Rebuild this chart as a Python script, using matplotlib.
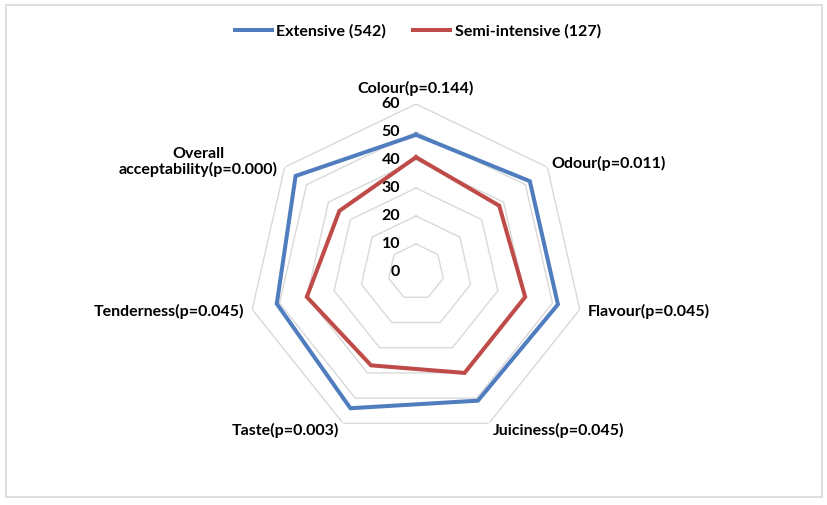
import numpy as np
import matplotlib
matplotlib.use("Agg")
import matplotlib.pyplot as plt
from matplotlib.patches import Rectangle

categories = ["Colour(p=0.144)", "Odour(p=0.011)", "Flavour(p=0.045)",
              "Juiciness(p=0.045)", "Taste(p=0.003)", "Tenderness(p=0.045)",
              "Overall\nacceptability(p=0.000)"]
extensive = [49, 52, 52, 51, 54, 51, 55]
semi_intensive = [41, 38, 40, 40, 37, 40, 35]
series_names = ["Extensive (542)", "Semi-intensive (127)"]
r_ticks = [0, 10, 20, 30, 40, 50, 60]

plt.rcParams['font.family'] = ['Lato', 'DejaVu Sans']
plt.rcParams['font.weight'] = 'bold'

W, H = 827, 505
fig = plt.figure(figsize=(W / 100, H / 100), dpi=100)

FS = 11.5

cx, cy, R = 416, 272, 168
ax = fig.add_axes([(cx - R) / W, (H - cy - R) / H, 2 * R / W, 2 * R / H],
                  projection='polar')
ax.set_theta_zero_location('N')
ax.set_theta_direction(-1)
ax.set_ylim(0, 60)
ax.grid(False)
ax.spines['polar'].set_visible(False)
ax.set_xticks([])
ax.set_yticks([])
ax.patch.set_alpha(0)

n = len(categories)
theta = np.linspace(0, 2 * np.pi, n, endpoint=False)
theta_c = np.append(theta, theta[0])

grid_col = '#D9D9D9'
for rv in r_ticks[1:]:
    ax.plot(theta_c, [rv] * (n + 1), color=grid_col, lw=1.0, zorder=1)

for rv in r_ticks:
    ax.annotate(str(rv), xy=(0, rv), xytext=(-11.5, 0), textcoords='offset points',
                ha='right', va='center', fontsize=FS, fontweight='bold',
                color='#000000', zorder=5)

colors = ['#4F7DBE', '#BE4B48']
for vals, col, name in zip([extensive, semi_intensive], colors, series_names):
    v = list(vals) + [vals[0]]
    ax.plot(theta_c, v, color=col, lw=2.9, label=name, zorder=3,
            solid_joinstyle='miter')

label_specs = [
    (65.7, 'center', 'center'),
    (62, 'left', 'center'),
    (63, 'left', 'center'),
    (63, 'left', 'center'),
    (63, 'right', 'center'),
    (63, 'right', 'center'),
    (63, 'right', 'center'),
]
for th, lab, (rr, ha, va) in zip(theta, categories, label_specs):
    ax.text(th, rr, lab, ha=ha, va=va, fontsize=FS, fontweight='bold',
            multialignment='center', linespacing=1.15, clip_on=False)

handles, labels = ax.get_legend_handles_labels()
fig.legend(handles, labels, loc='center', bbox_to_anchor=(418 / W, 1 - 31 / H),
           ncol=2, frameon=False, handlelength=2.3,
           handletextpad=0.3, columnspacing=1.7,
           prop={'weight': 'bold', 'size': 11.5})

fig.patches.append(Rectangle((6 / W, 1 - 497 / H), (822 - 6) / W, (497 - 5) / H,
                             transform=fig.transFigure, fill=False,
                             edgecolor='#D9D9D9', lw=1.2))

fig.savefig('out.png', dpi=100, facecolor='white')
